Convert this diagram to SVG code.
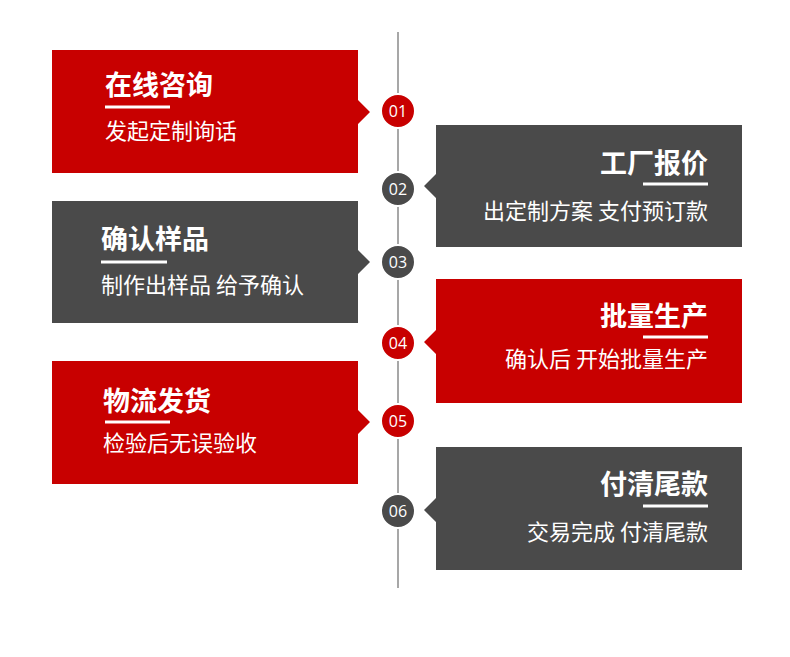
<svg xmlns="http://www.w3.org/2000/svg" width="790" height="657" viewBox="0 0 790 657">
<style>
.red{fill:#c80000}
.gray{fill:#4a4a4a}
.title{font-family:"Noto Sans CJK SC","Noto Sans",sans-serif;font-weight:bold;font-size:27px;fill:#fff}
.sub{font-family:"Noto Sans CJK SC","Noto Sans",sans-serif;font-size:22px;fill:#fff}
.num{font-family:"Open Sans","Liberation Sans",sans-serif;font-size:16px;fill:#fff;text-anchor:middle}
.ul{stroke:#fff;stroke-width:3}
.r{text-anchor:end}
.dot{stroke:#fff;stroke-width:2}
</style>
<rect width="790" height="657" fill="#fff"/>
<g id="connectors">
<line x1="398" y1="32" x2="398" y2="588" stroke="#8a8a8a" stroke-width="1.5"/>
</g>
<g id="step1">
<path class="red" d="M52,50H358V100L370,112L358,124V173H52Z"/>
<text class="title" x="105" y="95">在线咨询</text>
<line class="ul" x1="105" y1="107" x2="170" y2="107"/>
<text class="sub" x="105" y="139">发起定制询话</text>
<circle class="red dot" cx="398" cy="111" r="17"/>
<text class="num" x="398" y="117">01</text>
</g>
<g id="step2">
<path class="gray" d="M436,125H742V247H436V198L424,186L436,174Z"/>
<text class="title r" x="708" y="173">工厂报价</text>
<line class="ul" x1="643" y1="184" x2="708" y2="184"/>
<text class="sub r" x="708" y="219">出定制方案 支付预订款</text>
<circle class="gray dot" cx="398" cy="189" r="17"/>
<text class="num" x="398" y="195">02</text>
</g>
<g id="step3">
<path class="gray" d="M52,201H358V250L370,262L358,274V323H52Z"/>
<text class="title" x="101" y="249">确认样品</text>
<line class="ul" x1="101" y1="262" x2="167" y2="262"/>
<text class="sub" x="101" y="293">制作出样品 给予确认</text>
<circle class="gray dot" cx="398" cy="262" r="17"/>
<text class="num" x="398" y="268">03</text>
</g>
<g id="step4">
<path class="red" d="M436,279H742V403H436V354L424,342L436,330Z"/>
<text class="title r" x="708" y="326">批量生产</text>
<line class="ul" x1="643" y1="337" x2="708" y2="337"/>
<text class="sub r" x="708" y="367">确认后 开始批量生产</text>
<circle class="red dot" cx="398" cy="343" r="17"/>
<text class="num" x="398" y="349">04</text>
</g>
<g id="step5">
<path class="red" d="M52,361H358V410L370,422L358,434V484H52Z"/>
<text class="title" x="103" y="411">物流发货</text>
<line class="ul" x1="105" y1="422" x2="170" y2="422"/>
<text class="sub" x="103" y="451">检验后无误验收</text>
<circle class="red dot" cx="398" cy="421" r="17"/>
<text class="num" x="398" y="427">05</text>
</g>
<g id="step6">
<path class="gray" d="M436,447H742V570H436V522L424,510L436,498Z"/>
<text class="title r" x="708" y="494">付清尾款</text>
<line class="ul" x1="643" y1="506" x2="708" y2="506"/>
<text class="sub r" x="708" y="540">交易完成 付清尾款</text>
<circle class="gray dot" cx="398" cy="511" r="17"/>
<text class="num" x="398" y="517">06</text>
</g>
</svg>
